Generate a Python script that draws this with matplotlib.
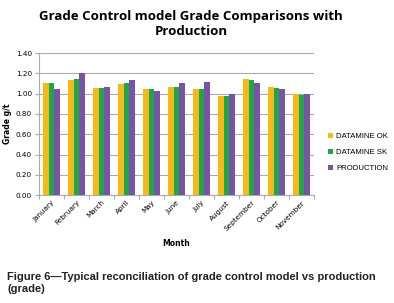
import matplotlib
matplotlib.use("Agg")
import matplotlib.pyplot as plt
import numpy as np

months = ["January", "February", "March", "April", "May", "June", "July",
          "August", "September", "October", "November"]
datamine_ok = [1.10, 1.13, 1.06, 1.09, 1.05, 1.07, 1.05, 0.98, 1.14, 1.07, 1.00]
datamine_sk = [1.10, 1.14, 1.06, 1.10, 1.05, 1.07, 1.05, 0.98, 1.13, 1.06, 0.99]
production = [1.05, 1.20, 1.07, 1.13, 1.03, 1.10, 1.11, 1.00, 1.10, 1.05, 1.00]
series_names = ["DATAMINE OK", "DATAMINE SK", "PRODUCTION"]
colors = ["#F7B917", "#1DA64A", "#7A52A6"]

fig = plt.figure(figsize=(3.94, 3.03), dpi=100)
ax = fig.add_axes([0.099, 0.356, 0.698, 0.469])

x = np.arange(len(months))
w = 0.23
for i, (vals, name, c) in enumerate(zip([datamine_ok, datamine_sk, production], series_names, colors)):
    ax.bar(x + (i - 1) * w, vals, width=w, color=c, label=name, zorder=3)

ax.set_xlim(-0.5, len(months) - 0.5)
ax.set_ylim(0, 1.40)
ax.set_yticks(np.arange(0, 1.41, 0.2))
ax.set_yticklabels([f"{v:.2f}" for v in np.arange(0, 1.41, 0.2)], fontsize=5.2, family="DejaVu Sans")
ax.yaxis.grid(True, color="#ababab", linewidth=0.8, zorder=0)
ax.set_xticks(x)
ax.set_xticklabels(months, rotation=45, ha="right", rotation_mode="anchor", fontsize=5.2)
ax.set_xticks(np.arange(-0.5, len(months)), minor=True)
ax.tick_params(axis="x", which="major", length=0, pad=3)
ax.tick_params(axis="x", which="minor", length=3, color="#ababab", width=0.8)
ax.tick_params(axis="y", length=3, color="#ababab", width=0.8, pad=2)
for s in ["top", "right"]:
    ax.spines[s].set_visible(False)
for s in ["left", "bottom"]:
    ax.spines[s].set_color("#ababab")
    ax.spines[s].set_linewidth(0.8)

ax.set_ylabel("Grade g/t", fontsize=5.5, fontweight="bold", labelpad=3)
ax.set_xlabel("Month", fontsize=5.5, fontweight="bold", labelpad=5)

fig.text(0.485, 0.922, "Grade Control model Grade Comparisons with\nProduction",
         ha="center", va="center", fontsize=9.5, fontweight="bold",
         family="Open Sans", linespacing=1.2)

leg = ax.legend(loc="center left", bbox_to_anchor=(1.052, 0.30), frameon=False,
                prop={"family": "Liberation Sans", "size": 5.6},
                handlelength=0.55, handleheight=0.55, handletextpad=0.45,
                labelspacing=1.15, borderpad=0, borderaxespad=0)

fig.text(0.018, 0.066, "Figure 6\u2014Typical reconciliation of grade control model vs production\n(grade)",
         ha="left", va="center", fontsize=8, fontweight="bold", family="Liberation Sans",
         color="#222222", linespacing=1.35)

fig.savefig("out.png", dpi=100)
